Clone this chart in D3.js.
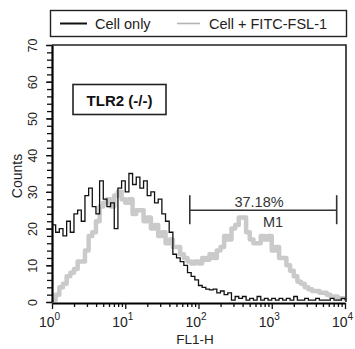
<!DOCTYPE html>
<html>
<head>
<meta charset="utf-8">
<script src="https://cdn.jsdelivr.net/npm/d3@7"></script>
<style>
  body { margin: 0; background: #fff; }
  svg { display: block; font-family: 'Liberation Sans', Arial, sans-serif; }
</style>
</head>
<body>
<div id="chart"></div>
<script>
// histogram channels are evenly spaced on the log FL1 axis
const decadesPerChannel = 0.05

// counts per channel, channel 0 = FL1 10^0
const cellOnly = [
  21, 19, 20, 18, 22, 19, 24, 25, 22, 29,
  31, 26, 24, 33, 28, 26, 27, 20, 31, 33,
  30, 35, 32, 34, 31, 33, 29, 30, 27, 28,
  24, 22, 19, 13, 12, 11, 10, 8, 7, 6,
  4.5, 4, 3.5, 3.3, 3.5, 2.5, 3, 2, 2.5, 0.5,
  1.5, 1, 1.5, 0.5, 1, 0.5, 1.5, 0.5, 1, 0.5,
  1, 0.5, 1, 0.5, 1, 0.5, 1.5, 0.5, 0.5, 1,
  0.5, 0.5, 1, 0.5, 0.5, 0.5, 1, 0.5, 0.5, 1,
  0.5
]
const cellFsl = [
  0.5, 2, 4, 5, 7, 8, 9, 11, 11, 14,
  18, 19, 22, 26, 27, 28, 26, 29, 30, 28,
  27, 28, 24, 25, 25, 22, 23, 20, 21, 18,
  19, 16, 17, 15, 15, 13, 12, 11, 10.5, 11,
  10.5, 12, 11.5, 13, 12, 14, 15, 18, 17, 20,
  21, 23, 23, 19, 17, 16, 16, 18, 17, 18,
  14, 15, 12, 12, 10, 8.5, 7, 5.5, 5, 4,
  3.5, 3, 3, 2.5, 2.5, 2, 1.5, 1.5, 1, 1,
  1
]

const seriesNames = ['Cell only', 'Cell + FITC-FSL-1']
const xMajorTicks = [1, 10, 100, 1000, 10000]
const yTicks = [0, 10, 20, 30, 40, 50, 60, 70]
const markerFrom = 76
const markerTo = 7700
const markerCount = 25
const markerPct = '37.18%'
const markerName = 'M1'
const panelLabel = 'TLR2 (-/-)'

const width = 355
const height = 349
const plot = { left: 52, right: 345, top: 45, bottom: 302 }

const svg = d3.select('#chart').append('svg')
  .attr('width', width)
  .attr('height', height)

const x = d3.scaleLog().domain([1, 10000]).range([plot.left, plot.right])
const y = d3.scaleLinear().domain([0, 70]).range([plot.bottom, plot.top])

// legend box
svg.append('rect')
  .attr('x', 50.5).attr('y', 10.5)
  .attr('width', 296).attr('height', 26)
  .attr('fill', 'none').attr('stroke', '#222').attr('stroke-width', 1.4)
svg.append('line')
  .attr('x1', 60).attr('x2', 87).attr('y1', 23.5).attr('y2', 23.5)
  .attr('stroke', '#111').attr('stroke-width', 2)
svg.append('text')
  .attr('x', 95).attr('y', 28.5)
  .attr('font-size', '14.5px').attr('fill', '#222')
  .text(seriesNames[0])
svg.append('line')
  .attr('x1', 177).attr('x2', 200).attr('y1', 23.5).attr('y2', 23.5)
  .attr('stroke', '#b4b4b4').attr('stroke-width', 1.6)
svg.append('text')
  .attr('x', 209).attr('y', 28.5)
  .attr('font-size', '14.5px').attr('fill', '#222')
  .text(seriesNames[1])

// plot frame (top + right)
svg.append('path')
  .attr('d', `M${plot.left},${plot.top}H${plot.right + 1}V${plot.bottom}`)
  .attr('fill', 'none').attr('stroke', '#222').attr('stroke-width', 1.6)

// histograms
const toPoints = counts => counts.map((c, i) => [Math.pow(10, i * decadesPerChannel), c])
const line = d3.line()
  .x(d => x(d[0]))
  .y(d => y(d[1]))
  .curve(d3.curveStepAfter)

svg.append('path')
  .datum(toPoints(cellFsl))
  .attr('d', line)
  .attr('fill', 'none')
  .attr('stroke', '#cacaca')
  .attr('stroke-width', 4.5)
  .attr('stroke-linejoin', 'round')

svg.append('path')
  .datum(toPoints(cellOnly))
  .attr('d', line)
  .attr('fill', 'none')
  .attr('stroke', '#111')
  .attr('stroke-width', 1.3)

// x axis: minor then major ticks
const xMinor = []
xMajorTicks.slice(0, -1).forEach(p => {
  for (let k = 2; k < 10; k++) xMinor.push(p * k)
})
const xAxisG = svg.append('g').attr('transform', `translate(0,${plot.bottom + 1})`)
xAxisG.append('g')
  .call(d3.axisBottom(x).tickValues(xMinor).tickSize(4).tickFormat('').tickSizeOuter(0))
  .call(g => g.select('.domain').remove())
xAxisG.append('g')
  .call(d3.axisBottom(x).tickValues(xMajorTicks).tickSize(6).tickSizeOuter(0))
  .call(g => g.select('.domain').attr('stroke-width', 2))
  .call(g => g.selectAll('.tick text').each(function(d) {
    const t = d3.select(this)
    t.text(null)
      .attr('y', 24).attr('dy', 0).attr('x', -3)
      .attr('font-size', '14px').attr('fill', '#222')
    t.append('tspan').text('10')
    t.append('tspan').attr('dy', -7).attr('font-size', '10px').text(Math.round(Math.log10(d)))
  }))
xAxisG.selectAll('line').attr('stroke', '#111').attr('stroke-width', 1.3)

// y axis
const yMinor = d3.range(0, 71, 2)
const yAxisG = svg.append('g').attr('transform', `translate(${plot.left},0)`)
yAxisG.append('g')
  .call(d3.axisLeft(y).tickValues(yMinor).tickSize(5).tickFormat('').tickSizeOuter(0))
  .call(g => g.select('.domain').attr('stroke-width', 2.2))
yAxisG.append('g')
  .call(d3.axisLeft(y).tickValues(yTicks).tickSize(6).tickSizeOuter(0))
  .call(g => g.select('.domain').remove())
  .call(g => g.selectAll('.tick text')
    .attr('x', null).attr('dy', null)
    .attr('text-anchor', 'middle')
    .attr('transform', 'translate(-15,0) rotate(-90)')
    .attr('font-size', '12.5px').attr('fill', '#222'))
yAxisG.selectAll('line').attr('stroke', '#111').attr('stroke-width', 1.3)

// axis titles
svg.append('text')
  .attr('text-anchor', 'middle')
  .attr('transform', 'translate(22,176) rotate(-90)')
  .attr('font-size', '14px').attr('fill', '#222')
  .text('Counts')
svg.append('text')
  .attr('text-anchor', 'middle')
  .attr('x', 195).attr('y', 344)
  .attr('font-size', '13.5px').attr('fill', '#222')
  .text('FL1-H')

// panel label
svg.append('rect')
  .attr('x', 73).attr('y', 84.5)
  .attr('width', 93).attr('height', 30)
  .attr('fill', '#fff').attr('stroke', '#222').attr('stroke-width', 1.6)
svg.append('text')
  .attr('x', 119.5).attr('y', 106)
  .attr('text-anchor', 'middle')
  .attr('font-size', '15px').attr('font-weight', 'bold').attr('fill', '#111')
  .text(panelLabel)

// M1 marker
const my = y(markerCount)
const marker = svg.append('g').attr('stroke', '#333').attr('stroke-width', 1.6)
marker.append('line').attr('x1', x(markerFrom)).attr('x2', x(markerTo)).attr('y1', my).attr('y2', my)
marker.append('line').attr('x1', x(markerFrom)).attr('x2', x(markerFrom)).attr('y1', my - 15).attr('y2', my + 14)
marker.append('line').attr('x1', x(markerTo)).attr('x2', x(markerTo)).attr('y1', my - 15).attr('y2', my + 14)
svg.append('text')
  .attr('x', 259).attr('y', 206.5)
  .attr('text-anchor', 'middle')
  .attr('font-size', '14.5px').attr('fill', '#333')
  .text(markerPct)
svg.append('text')
  .attr('x', 273).attr('y', 226.5)
  .attr('text-anchor', 'middle')
  .attr('font-size', '14.5px').attr('fill', '#333')
  .text(markerName)
</script>
</body>
</html>
